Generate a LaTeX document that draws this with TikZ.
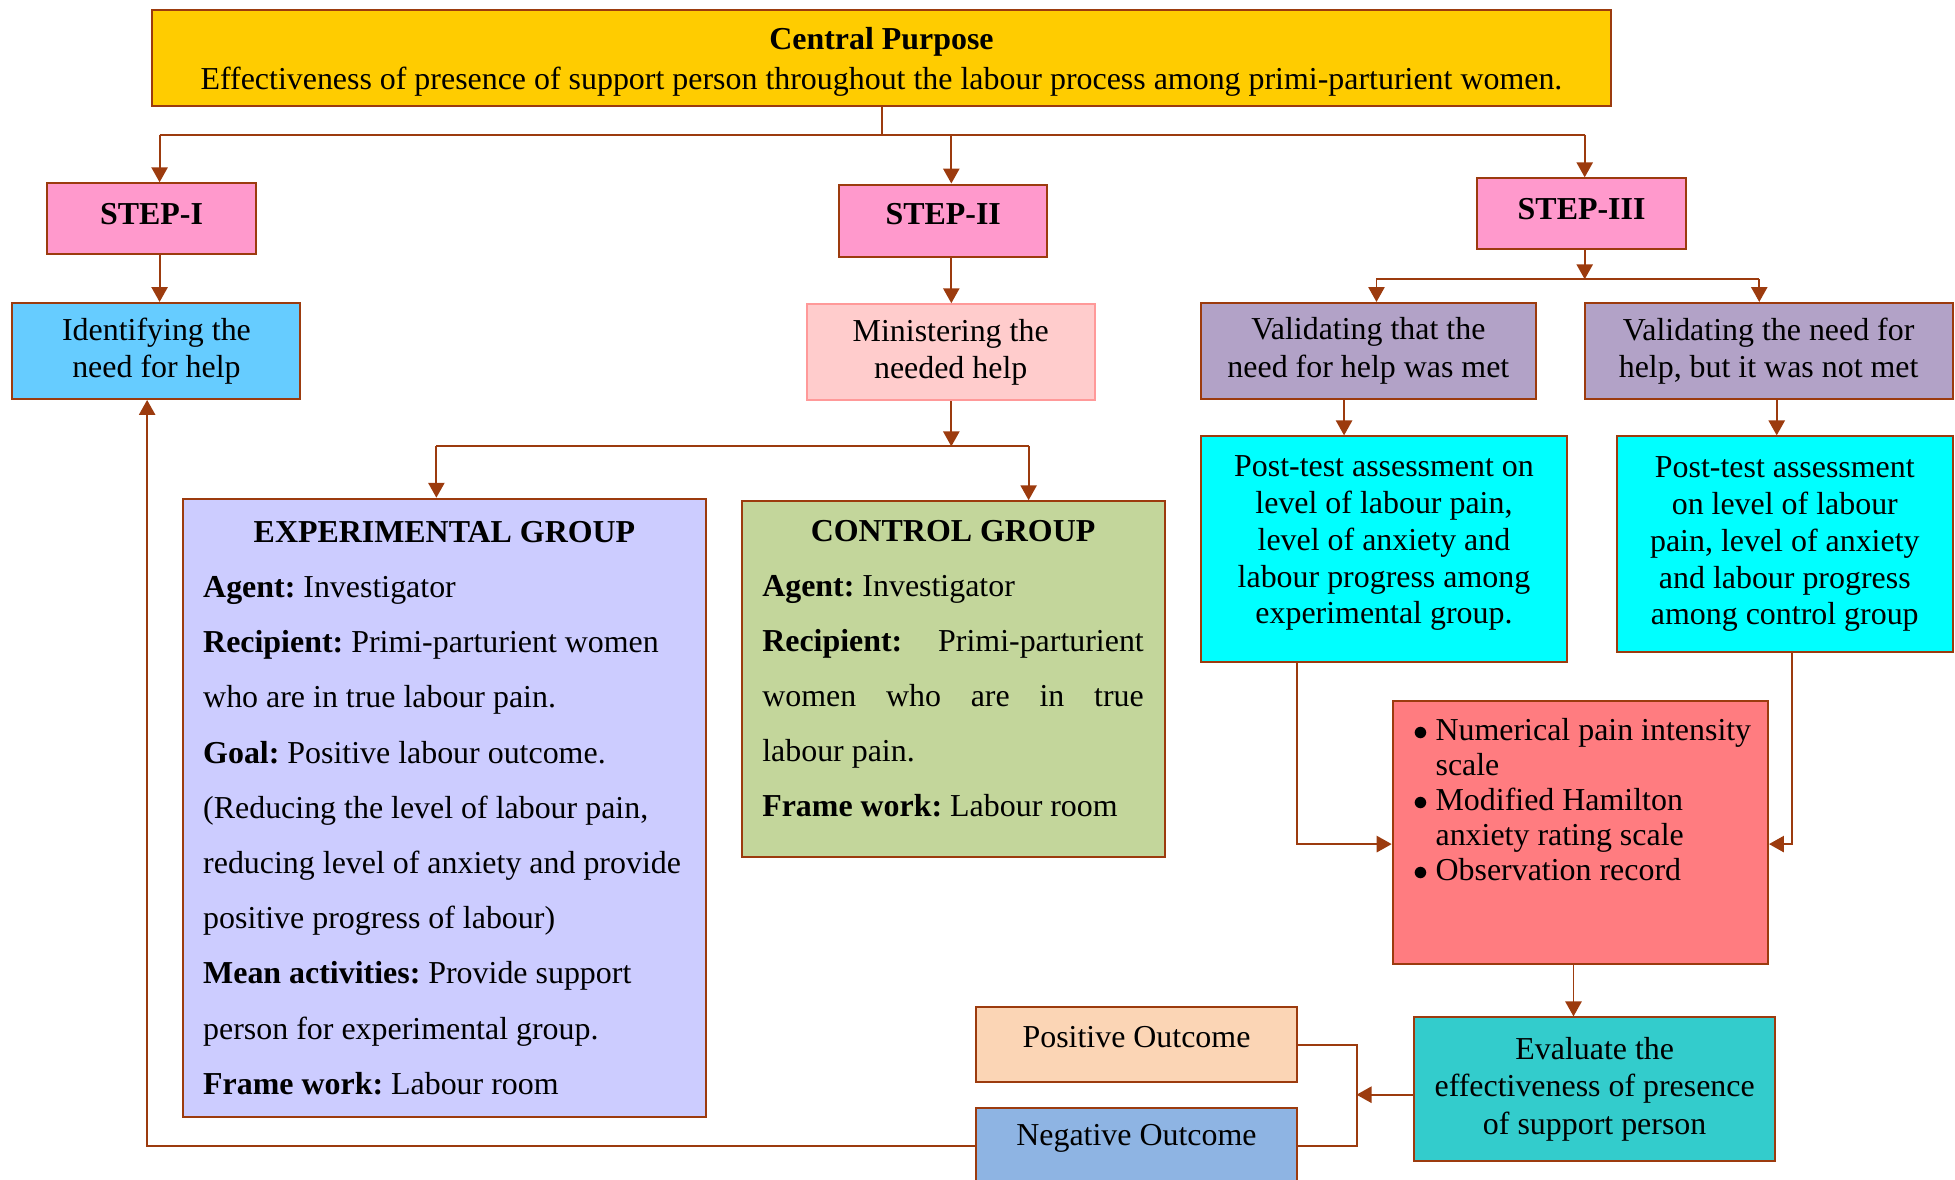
\documentclass[tikz,border=0pt]{standalone}
\usepackage{fontspec}
\setmainfont{Liberation Serif}
\usetikzlibrary{arrows.meta}
\frenchspacing
\definecolor{brd}{HTML}{9C3B0E}
\definecolor{cgold}{HTML}{FFCC00}
\definecolor{cstep}{HTML}{FF99CC}
\definecolor{cid}{HTML}{66CCFF}
\definecolor{cmin}{HTML}{FFCCCC}
\definecolor{cminb}{HTML}{FF9999}
\definecolor{cexp}{HTML}{CCCCFF}
\definecolor{cctl}{HTML}{C3D69B}
\definecolor{cval}{HTML}{B2A2C7}
\definecolor{ccyan}{HTML}{00FFFF}
\definecolor{cred}{HTML}{FF7C80}
\definecolor{ceval}{HTML}{33CCCC}
\definecolor{cpos}{HTML}{FBD5B5}
\definecolor{cneg}{HTML}{8EB4E3}
\newcommand{\normsp}{\spaceskip=0pt\xspaceskip=0pt\frenchspacing}
\newcommand{\shiftup}[2]{\raisebox{#1}[\height][\depth]{#2}}
\newcommand{\bul}{\makebox[9pt][l]{$\bullet$}}
\tikzset{
  box/.style={draw=brd, line width=0.8pt, inner sep=0pt, align=center,
    font=\fontsize{12.8}{15}\selectfont},
  sz/.style 2 args={minimum width=#1*0.5pt, minimum height=#2*0.5pt},
  ln/.style={draw=brd, line width=0.8pt},
  arr/.style={ln, -{Triangle[length=6pt,width=6.5pt]}},
}
\begin{document}
\begin{tikzpicture}[x=0.5pt,y=-0.5pt]
\useasboundingbox (0,0) rectangle (1568,946);
\clip (0,0) rectangle (1568,946);
% boxes
\node[box, sz={1170}{77}, fill=cgold, font=\fontsize{12.8}{15.5}\selectfont] (top) at (707,46.5)
  {\shiftup{-1.5pt}{\begin{tabular}{@{}c@{}}\textbf{Central Purpose}\\[0.3pt]Effectiveness of presence of support person throughout the labour process among primi-parturient women.\end{tabular}}};
\node[box, sz={167}{57}, fill=cstep] (s1) at (121.5,175.5) {\shiftup{2pt}{\textbf{STEP-I}}};
\node[box, sz={167}{58}, fill=cstep] (s2) at (756.5,177) {\shiftup{2.5pt}{\textbf{STEP-II}}};
\node[box, sz={167}{57}, fill=cstep] (s3) at (1268.5,171.5) {\shiftup{2pt}{\textbf{STEP-III}}};
\node[box, sz={231}{77}, fill=cid] (id) at (125.5,281.5) {Identifying the\\need for help};
\node[box, sz={231}{77}, fill=cmin, draw=cminb] (min) at (762.5,282.5) {Ministering the\\needed help};
\node[box, sz={269}{77}, fill=cval] (v1) at (1097.5,281.5) {Validating that the\\need for help was met};
\node[box, sz={295}{77}, fill=cval] (v2) at (1418.5,281.5) {Validating the need for\\help, but it was not met};
\node[box, sz={419}{496}, fill=cexp, align=left, inner xsep=8pt, text width=193.5pt,
  font=\fontsize{12.8}{22.15}\selectfont] (exp) at (356.5,648)
  {\normsp\makebox[193.5pt][c]{\textbf{EXPERIMENTAL GROUP}}\\
   \textbf{Agent:} Investigator\\
   \textbf{Recipient:} Primi-parturient women\\
   who are in true labour pain.\\
   \textbf{Goal:} Positive labour outcome.\\
   (Reducing the level of labour pain,\\
   \mbox{reducing level of anxiety and provide}\\
   positive progress of labour)\\
   \textbf{Mean activities:} Provide support\\
   person for experimental group.\\
   \textbf{Frame work:} Labour room};
\node[box, sz={339}{285}, fill=cctl] (ctl) at (764.5,544.5) {};
\node[anchor=base west, inner sep=0pt, align=left, text width=153pt,
  font=\fontsize{12.8}{22.1}\selectfont] (ctlt) at (611,434)
  {\normsp\makebox[153pt][c]{\textbf{CONTROL GROUP}}\\
   \textbf{Agent:} Investigator\\
   \textbf{Recipient:}\hskip 0pt plus 1fill Primi-parturient\\
   women\hskip 0pt plus 1fill who\hskip 0pt plus 1fill are\hskip 0pt plus 1fill in\hskip 0pt plus 1fill true\\
   labour pain.\\
   \textbf{Frame work:} Labour room};
\node[box, sz={294}{181}, fill=ccyan, font=\fontsize{12.8}{14.75}\selectfont] (p1) at (1110,440.5)
  {\shiftup{2.5pt}{\begin{tabular}{@{}c@{}}Post-test assessment on\\level of labour pain,\\level of anxiety and\\labour progress among\\experimental group.\end{tabular}}};
\node[box, sz={269}{173}, fill=ccyan, font=\fontsize{12.8}{14.75}\selectfont] (p2) at (1431.5,436.5)
  {Post-test assessment\\on level of labour\\pain, level of anxiety\\and labour progress\\among control group};
\node[box, sz={301}{211}, fill=cred] (red) at (1267.5,667.5) {};
\node[anchor=base west, inner sep=0pt, font=\fontsize{12.8}{14}\selectfont] (redt) at (1133,594)
  {\begin{tabular}[t]{@{}l@{}l@{}}
   \bul & Numerical pain intensity\\
   & scale\\
   \bul & Modified Hamilton\\
   & anxiety rating scale\\
   \bul & Observation record
   \end{tabular}};
\node[box, sz={290}{115}, fill=ceval] (ev) at (1279,873.5)
  {Evaluate the\\effectiveness of presence\\of support person};
\node[box, sz={257}{60}, fill=cpos] (pos) at (911.5,838) {\shiftup{3pt}{Positive Outcome}};
\node[box, sz={257}{60}, fill=cneg] (neg) at (911.5,919) {\shiftup{3pt}{Negative Outcome}};
% guide coordinates
\coordinate (j1) at (707,108);
\coordinate (h1L) at (128,108);
\coordinate (h1M) at (763,108);
\coordinate (h1R) at (1271,108);
\coordinate (j2) at (763,358);
\coordinate (j2L) at (350,358);
\coordinate (j2R) at (825,358);
\coordinate (j3) at (1271,224);
\coordinate (j3L) at (1104,224);
\coordinate (j3R) at (1411,224);
\coordinate (q1) at (1078,335);
\coordinate (q2) at (1425,335);
\coordinate (k1) at (1040,677);
\coordinate (k2) at (1437,677);
\coordinate (k3) at (1262,795);
\coordinate (k4) at (1088,878);
\coordinate (k5) at (118,919);
% connectors
\draw[ln] (top.south) -- (j1);
\draw[ln] (h1L) -- (h1R);
\draw[arr] (h1L) -- (h1L |- s1.north);
\draw[arr] (h1M) -- (h1M |- s2.north);
\draw[arr] (h1R) -- (h1R |- s3.north);
\draw[arr] (s1.south -| h1L) -- (h1L |- id.north);
\draw[arr] (s2.south -| h1M) -- (h1M |- min.north);
\draw[arr] (min.south -| j2) -- (j2);
\draw[ln] (j2L) -- (j2R);
\draw[arr] (j2L) -- (j2L |- exp.north);
\draw[arr] (j2R) -- (j2R |- ctl.north);
\draw[arr] (s3.south -| j3) -- (j3);
\draw[ln] (j3L) -- (j3R);
\draw[arr] (j3L) -- (j3L |- v1.north);
\draw[arr] (j3R) -- (j3R |- v2.north);
\draw[arr] (v1.south -| q1) -- (q1 |- p1.north);
\draw[arr] (v2.south -| q2) -- (q2 |- p2.north);
\draw[arr] (p1.south -| k1) -- (k1) -- (k1 -| red.west);
\draw[arr] (p2.south -| k2) -- (k2) -- (k2 -| red.east);
\draw[arr] (red.south -| k3) -- (k3 |- ev.north);
\draw[arr] (ev.west |- k4) -- (k4);
\draw[ln] (pos.east) -- (pos.east -| k4) -- (neg.east -| k4) -- (neg.east);
\draw[arr] (neg.west) -- (k5) -- (k5 |- id.south);
\end{tikzpicture}
\end{document}
